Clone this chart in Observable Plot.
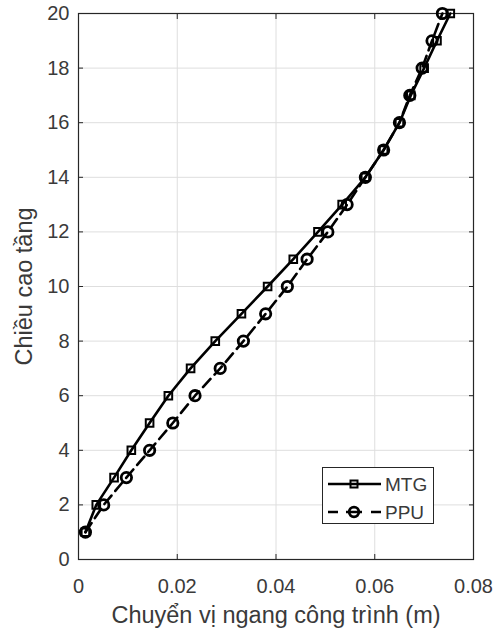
<!DOCTYPE html>
<html><head><meta charset="utf-8">
<script src="https://cdn.jsdelivr.net/npm/d3@7"></script>
<script src="https://cdn.jsdelivr.net/npm/@observablehq/plot@0.6"></script>
<style>
body{margin:0;background:#fff;}
#wrap{position:relative;width:497px;height:631px;font-family:"Liberation Sans",Arial,sans-serif;}
#legend{position:absolute;left:322px;top:467px;width:110px;height:55px;border:1px solid #262626;background:#fff;}
#wrap svg g[aria-label="x-axis label"] text, #wrap svg g[aria-label="y-axis label"] text{font-size:23.5px;}
</style></head><body><div id="wrap"></div>
<script>
const floors = [1,2,3,4,5,6,7,8,9,10,11,12,13,14,15,16,17,18,19,20];
const mtg = [0.0014,0.0036,0.0072,0.0107,0.0144,0.0182,0.0227,0.0277,0.0330,0.0383,0.0435,0.0485,0.0534,0.0581,0.0618,0.0650,0.0673,0.0700,0.0726,0.0753];
const ppu = [0.0014,0.0051,0.0097,0.0144,0.0191,0.0236,0.0287,0.0334,0.0379,0.0423,0.0463,0.0505,0.0544,0.0581,0.0618,0.0650,0.0671,0.0696,0.0716,0.0737];
const xTicks = [0,0.02,0.04,0.06,0.08];
const xTickLabels = ["0","0.02","0.04","0.06","0.08"];
const yTicks = [0,2,4,6,8,10,12,14,16,18,20];
const seriesNames = ["MTG","PPU"];
const xLabel = "Chuyển vị ngang công trình (m)";
const yLabel = "Chiều cao tầng";

const dataMTG = floors.map((f,i)=>({y:f,x:mtg[i]}));
const dataPPU = floors.map((f,i)=>({y:f,x:ppu[i]}));
const ink = "#262626";
const txt = "#3a3a3a";
const fmtX = d => xTickLabels[xTicks.indexOf(d)] ?? String(d);

const chart = Plot.plot({
  width: 497, height: 631,
  marginLeft: 78, marginRight: 24, marginTop: 13, marginBottom: 72,
  style: {fontFamily: '"Liberation Sans", Arial, sans-serif', fontSize: "20px", color: txt, background: "#fff"},
  x: {domain: [0, 0.08]},
  y: {domain: [0, 20]},
  marks: [
    Plot.gridX(xTicks, {stroke: "#dedede", strokeOpacity: 1}),
    Plot.gridY(yTicks, {stroke: "#dedede", strokeOpacity: 1}),
    Plot.axisX(xTicks, {anchor: "bottom", tickSize: -5, tickPadding: 24, tickFormat: fmtX, stroke: ink, fill: txt, fontSize: 20,
      label: xLabel, labelAnchor: "center", labelArrow: "none", labelOffset: 63}),
    Plot.axisX(xTicks, {anchor: "top", tickSize: -5, tickFormat: () => "", stroke: ink, label: null}),
    Plot.axisY(yTicks, {anchor: "left", tickSize: -5, tickPadding: 14, stroke: ink, fill: txt, fontSize: 20,
      label: yLabel, labelAnchor: "center", labelArrow: "none", labelOffset: 63}),
    Plot.axisY(yTicks, {anchor: "right", tickSize: -5, tickFormat: () => "", stroke: ink, label: null}),
    Plot.frame({stroke: ink, strokeWidth: 1.2}),
    Plot.line(dataMTG, {x: "x", y: "y", stroke: "#000", strokeWidth: 2.6}),
    Plot.line(dataPPU, {x: "x", y: "y", stroke: "#000", strokeWidth: 2.6, strokeDasharray: "11,6"}),
    Plot.dot(dataMTG, {x: "x", y: "y", symbol: "square", r: 4.3, stroke: "#000", strokeWidth: 2, fill: "none"}),
    Plot.dot(dataPPU, {x: "x", y: "y", symbol: "circle", r: 5.2, stroke: "#000", strokeWidth: 2.8, fill: "none"})
  ]
});
const wrap = document.getElementById("wrap");
wrap.appendChild(chart);

// legend
const leg = document.createElement("div");
leg.id = "legend";
wrap.appendChild(leg);
const svg = d3.select(leg).append("svg").attr("width", 110).attr("height", 55);
const rows = [{name: seriesNames[0], dash: null, sym: "square"}, {name: seriesNames[1], dash: "10,8,16,9,10", sym: "circle"}];
rows.forEach((r, i) => {
  const yy = 16 + i * 28;
  svg.append("line").attr("x1", 5).attr("x2", 58).attr("y1", yy).attr("y2", yy)
    .attr("stroke", "#000").attr("stroke-width", 2.6).attr("stroke-dasharray", r.dash);
  if (r.sym === "square") {
    svg.append("rect").attr("x", 27.5).attr("y", yy - 3.5).attr("width", 7).attr("height", 7)
      .attr("fill", "none").attr("stroke", "#000").attr("stroke-width", 2);
  } else {
    svg.append("circle").attr("cx", 31).attr("cy", yy).attr("r", 4.8)
      .attr("fill", "none").attr("stroke", "#000").attr("stroke-width", 2.8);
  }
  svg.append("text").attr("x", 62).attr("y", yy).attr("dy", "0.36em").attr("fill", txt)
    .attr("font-size", 19).attr("font-family", '"Liberation Sans", Arial, sans-serif').text(r.name);
});
</script>
</body></html>
